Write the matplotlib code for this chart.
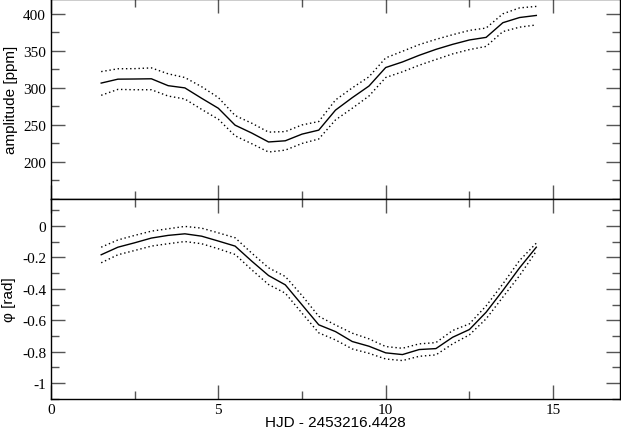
import matplotlib
matplotlib.use("Agg")
import matplotlib.pyplot as plt
import numpy as np
from matplotlib.ticker import MultipleLocator

plt.rcParams['axes.unicode_minus'] = False

# time since HJD 2453216.4428 (days)
t = np.arange(1.5, 14.51, 0.5)

amp = [306.5, 311.8, 312.0, 312.3, 303.0, 300.0, 286.0, 272.5, 249.7, 239.0,
       227.0, 228.6, 237.6, 243.0, 270.0, 286.8, 302.5, 327.5, 335.0, 344.0,
       352.0, 358.8, 364.7, 368.2, 388.0, 395.0, 397.8]
amp_hi = [322.0, 325.8, 326.0, 327.0, 319.0, 314.0, 301.6, 287.0, 262.7, 252.3,
          240.3, 241.0, 250.0, 254.6, 283.7, 300.0, 315.0, 340.5, 349.4, 358.4,
          365.5, 371.8, 377.6, 380.8, 400.0, 408.0, 410.0]
amp_lo = [290.0, 298.0, 297.5, 297.5, 289.0, 285.0, 271.0, 257.7, 235.3, 224.6,
          213.4, 216.0, 225.0, 231.0, 256.8, 272.5, 289.0, 314.0, 321.7, 330.6,
          338.3, 345.9, 351.7, 356.0, 376.0, 382.0, 385.0]

phase = [-0.184, -0.136, -0.108, -0.078, -0.061, -0.051, -0.066, -0.097, -0.129,
         -0.225, -0.316, -0.375, -0.502, -0.629, -0.672, -0.735, -0.765, -0.807,
         -0.818, -0.786, -0.780, -0.708, -0.659, -0.549, -0.411, -0.267, -0.136]
phase_hi = [-0.136, -0.090, -0.061, -0.034, -0.019, -0.004, -0.015, -0.045, -0.076,
            -0.174, -0.267, -0.322, -0.443, -0.575, -0.630, -0.682, -0.718, -0.767,
            -0.778, -0.750, -0.742, -0.665, -0.623, -0.509, -0.369, -0.220, -0.110]
phase_lo = [-0.235, -0.184, -0.157, -0.129, -0.114, -0.100, -0.114, -0.146, -0.182,
            -0.280, -0.373, -0.428, -0.555, -0.680, -0.725, -0.782, -0.810, -0.846,
            -0.856, -0.829, -0.820, -0.750, -0.693, -0.591, -0.453, -0.316, -0.161]

fig = plt.figure(figsize=(6.21, 4.35), dpi=100)
ax1 = fig.add_axes([0.0821, 0.5402, 0.9163, 0.4598])
ax2 = fig.add_axes([0.0821, 0.0805, 0.9163, 0.4597])

dots = (0, (1, 2))
ax1.plot(t, amp, color='black', lw=1.0)
ax1.plot(t, amp_hi, color='black', lw=1.0, ls=dots)
ax1.plot(t, amp_lo, color='black', lw=1.0, ls=dots)
ax2.plot(t, phase, color='black', lw=1.0)
ax2.plot(t, phase_hi, color='black', lw=1.0, ls=dots)
ax2.plot(t, phase_lo, color='black', lw=1.0, ls=dots)

ax1.set_xlim(0, 17)
ax1.set_ylim(150, 420)
ax2.set_xlim(0, 17)
ax2.set_ylim(-1.1, 0.17)

ax1.yaxis.set_minor_locator(MultipleLocator(25))
ax2.yaxis.set_minor_locator(MultipleLocator(0.1))
ax2.set_yticks([0, -0.2, -0.4, -0.6, -0.8, -1])
ax2.set_yticklabels(['0', '-0.2', '-0.4', '-0.6', '-0.8', '-1'])
ax1.set_yticks([200, 250, 300, 350, 400])

for ax in (ax1, ax2):
    ax.xaxis.set_major_locator(MultipleLocator(5))
    ax.xaxis.set_minor_locator(MultipleLocator(2.5))
    ax.tick_params(which='both', direction='in', top=True, right=True,
                   color='#555555', width=1.0)
    ax.tick_params(which='major', length=10)
    ax.tick_params(which='minor', length=6)
    ax.tick_params(axis='x', pad=3)
    for lab in ax.get_xticklabels() + ax.get_yticklabels():
        lab.set_fontfamily('Liberation Serif')
        lab.set_fontsize(11)
    for sp in ax.spines.values():
        sp.set_linewidth(1.0)

ax1.tick_params(labelbottom=False)

ax1.set_ylabel('amplitude [ppm]', fontfamily='Liberation Sans', fontsize=11, labelpad=4)
ax2.set_ylabel('φ [rad]', fontfamily='Liberation Sans', fontsize=11, labelpad=4)
ax2.set_xlabel('HJD - 2453216.4428', fontfamily='Liberation Sans', fontsize=11, labelpad=-1)

fig.savefig('out.png', dpi=100)
